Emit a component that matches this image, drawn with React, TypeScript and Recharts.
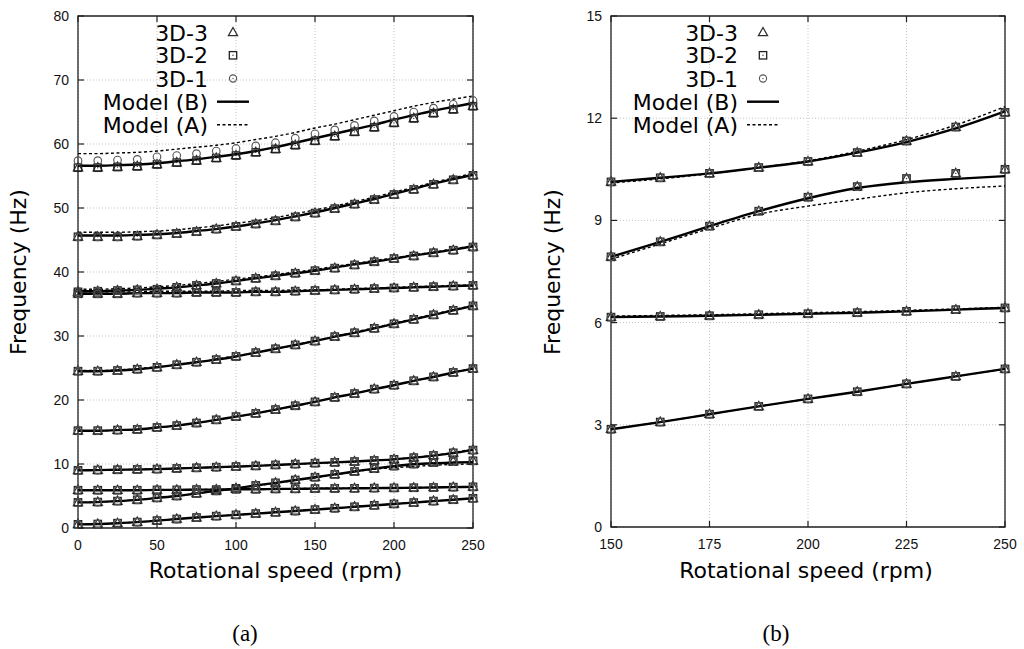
import React from 'react';
import { LineChart, Line, XAxis, YAxis, CartesianGrid, ReferenceArea } from 'recharts';

// ---------- data ----------
const speeds = [0, 12.5, 25, 37.5, 50, 62.5, 75, 87.5, 100, 112.5, 125, 137.5, 150, 162.5, 175, 187.5, 200, 212.5, 225, 237.5, 250];
const xTicksA = [0, 50, 100, 150, 200, 250];
const yTicksA = [0, 10, 20, 30, 40, 50, 60, 70, 80];
const xTicksB = [150, 175, 200, 225, 250];
const yTicksB = [0, 3, 6, 9, 12, 15];

// mode 1
const m1B = [56.6, 56.6, 56.7, 56.8, 57.0, 57.3, 57.6, 58.0, 58.4, 58.9, 59.5, 60.2, 60.9, 61.6, 62.3, 63.0, 63.8, 64.5, 65.2, 65.8, 66.4];
const m1A = [58.5, 58.5, 58.6, 58.7, 58.9, 59.2, 59.5, 59.8, 60.2, 60.7, 61.2, 61.8, 62.5, 63.1, 63.8, 64.5, 65.2, 65.9, 66.5, 67.0, 67.5];
const m1P = [56.3, 56.3, 56.4, 56.5, 56.8, 57.1, 57.4, 57.8, 58.2, 58.7, 59.2, 59.8, 60.5, 61.2, 61.9, 62.6, 63.3, 64.0, 64.8, 65.4, 65.9];
const m1C = [57.4, 57.4, 57.5, 57.6, 58.0, 58.2, 58.5, 58.9, 59.3, 59.7, 60.2, 60.9, 61.6, 62.2, 62.9, 63.6, 64.3, 65.0, 65.6, 66.2, 66.8];
// mode 2
const m2B = [45.7, 45.7, 45.7, 45.8, 45.9, 46.1, 46.4, 46.7, 47.1, 47.6, 48.1, 48.7, 49.3, 50.0, 50.7, 51.4, 52.2, 53.0, 53.8, 54.5, 55.2];
const m2A = [46.2, 46.2, 46.2, 46.3, 46.4, 46.6, 46.9, 47.2, 47.6, 48.0, 48.5, 49.1, 49.7, 50.3, 51.0, 51.7, 52.5, 53.2, 54.0, 54.7, 55.4];
const m2P = [45.5, 45.5, 45.5, 45.6, 45.8, 46.0, 46.3, 46.7, 47.1, 47.5, 48.0, 48.6, 49.2, 49.9, 50.6, 51.3, 52.1, 52.9, 53.7, 54.4, 55.1];
// mode 3
const m3B = [37.0, 37.0, 37.1, 37.2, 37.4, 37.6, 37.9, 38.2, 38.6, 39.0, 39.4, 39.8, 40.2, 40.7, 41.2, 41.6, 42.1, 42.6, 43.0, 43.5, 44.0];
const m3A = [37.3, 37.3, 37.4, 37.5, 37.7, 37.9, 38.2, 38.5, 38.9, 39.2, 39.6, 40.0, 40.4, 40.9, 41.3, 41.8, 42.2, 42.7, 43.1, 43.6, 44.1];
const m3P = [36.9, 37.0, 37.1, 37.2, 37.3, 37.6, 37.9, 38.2, 38.6, 39.0, 39.4, 39.8, 40.2, 40.6, 41.1, 41.6, 42.1, 42.5, 43.0, 43.4, 43.9];
// mode 4
const m4B = [36.6, 36.6, 36.6, 36.7, 36.7, 36.7, 36.8, 36.8, 36.8, 36.9, 36.9, 37.0, 37.1, 37.2, 37.3, 37.4, 37.5, 37.6, 37.7, 37.8, 37.9];
const m4A = [36.9, 36.9, 36.9, 36.9, 37.0, 37.0, 37.0, 37.0, 37.1, 37.1, 37.1, 37.2, 37.2, 37.3, 37.4, 37.5, 37.6, 37.7, 37.8, 37.9, 38.0];
// mode 5
const m5B = [24.5, 24.5, 24.6, 24.8, 25.1, 25.5, 25.9, 26.3, 26.8, 27.4, 28.0, 28.6, 29.2, 29.9, 30.5, 31.2, 31.9, 32.6, 33.3, 34.0, 34.7];
const m5A = [24.6, 24.6, 24.7, 24.9, 25.2, 25.5, 25.9, 26.4, 26.9, 27.4, 28.0, 28.6, 29.3, 29.9, 30.6, 31.3, 32.0, 32.7, 33.4, 34.1, 34.8];
// mode 6
const m6B = [15.2, 15.2, 15.3, 15.4, 15.7, 16.0, 16.4, 16.9, 17.4, 17.9, 18.5, 19.1, 19.7, 20.4, 21.0, 21.7, 22.3, 23.0, 23.6, 24.3, 24.9];
// mode 7
const m7B = [9.0, 9.05, 9.1, 9.15, 9.2, 9.3, 9.4, 9.5, 9.6, 9.7, 9.85, 9.98, 10.13, 10.25, 10.38, 10.55, 10.73, 10.99, 11.3, 11.7, 12.2];
const m7A = [9.0, 9.05, 9.1, 9.15, 9.2, 9.3, 9.4, 9.5, 9.6, 9.7, 9.83, 9.96, 10.1, 10.22, 10.37, 10.55, 10.75, 11.03, 11.37, 11.8, 12.34];
const m7P = [9.0, 9.05, 9.1, 9.15, 9.2, 9.3, 9.4, 9.5, 9.6, 9.7, 9.85, 9.98, 10.13, 10.25, 10.38, 10.55, 10.73, 10.99, 11.33, 11.74, 12.17];
// mode 8
const m8B = [4.0, 4.05, 4.2, 4.4, 4.7, 5.0, 5.4, 5.8, 6.2, 6.65, 7.05, 7.5, 7.93, 8.37, 8.83, 9.27, 9.65, 9.95, 10.12, 10.22, 10.3];
const m8A = [4.0, 4.05, 4.2, 4.4, 4.7, 5.0, 5.4, 5.8, 6.2, 6.6, 7.0, 7.42, 7.86, 8.31, 8.76, 9.18, 9.42, 9.62, 9.81, 9.93, 10.01];
const m8P = [4.0, 4.05, 4.2, 4.4, 4.7, 5.0, 5.4, 5.8, 6.2, 6.65, 7.05, 7.5, 7.93, 8.37, 8.83, 9.27, 9.68, 9.99, 10.23, 10.38, 10.5];
// mode 9
const m9B = [5.9, 5.9, 5.9, 5.9, 5.95, 5.95, 6.0, 6.0, 6.05, 6.05, 6.1, 6.12, 6.16, 6.18, 6.2, 6.23, 6.26, 6.29, 6.33, 6.38, 6.43];
const m9A = [5.93, 5.93, 5.93, 5.93, 5.97, 5.98, 6.02, 6.03, 6.07, 6.08, 6.12, 6.15, 6.19, 6.21, 6.23, 6.26, 6.29, 6.32, 6.36, 6.4, 6.45];
// mode 10
const m10B = [0.57, 0.62, 0.75, 0.92, 1.15, 1.4, 1.63, 1.85, 2.05, 2.25, 2.45, 2.65, 2.87, 3.08, 3.31, 3.54, 3.76, 3.97, 4.2, 4.42, 4.64];

const modes = [
  { B: m1B, A: m1A, d3: m1P, d2: m1P, d1: m1C },
  { B: m2B, A: m2A, d3: m2P, d2: m2P, d1: m2P },
  { B: m3B, A: m3A, d3: m3P, d2: m3P, d1: m3P },
  { B: m4B, A: m4A, d3: m4B, d2: m4B, d1: m4B },
  { B: m5B, A: m5A, d3: m5B, d2: m5B, d1: m5B },
  { B: m6B, A: m6B, d3: m6B, d2: m6B, d1: m6B },
  { B: m7B, A: m7A, d3: m7P, d2: m7P, d1: m7P },
  { B: m8B, A: m8A, d3: m8P, d2: m8P, d1: m8P },
  { B: m9B, A: m9A, d3: m9B, d2: m9B, d1: m9B },
  { B: m10B, A: m10B, d3: m10B, d2: m10B, d1: m10B },
];

const rows = speeds.map((s, i) => {
  const r: Record<string, number> = { speed: s };
  modes.forEach((m, k) => {
    r[`B${k}`] = m.B[i];
    r[`A${k}`] = m.A[i];
    r[`t${k}`] = m.d3[i];
    r[`s${k}`] = m.d2[i];
    r[`c${k}`] = m.d1[i];
  });
  return r;
});
const rowsB = rows.filter((r) => r.speed >= 150);

// ---------- styling ----------
const SANS = 'DejaVu Sans, sans-serif';
const TICKF = 'Liberation Sans, Arial, sans-serif';
const AXW = 40; // y axis width
const AXH = 30; // x axis height

const Tri = ({ cx, cy }: { cx: number; cy: number }) => (
  <path d={`M${cx},${cy - 5}L${cx + 4.6},${cy + 3.2}L${cx - 4.6},${cy + 3.2}Z`} fill="none" stroke="#2e2e2e" strokeWidth={1.25} />
);
const Sq = ({ cx, cy }: { cx: number; cy: number }) => (
  <g>
    <rect x={cx - 3.7} y={cy - 3.7} width={7.4} height={7.4} fill="none" stroke="#222" strokeWidth={1.3} />
    <circle cx={cx} cy={cy} r={0.7} fill="#333" />
  </g>
);
const Circ = ({ cx, cy }: { cx: number; cy: number }) => (
  <circle cx={cx} cy={cy} r={3.8} fill="none" stroke="#555" strokeWidth={1.15} />
);

const dotFn = (Comp: any, tag: string) => (p: any) => {
  if (p.cx == null || p.cy == null || isNaN(p.cy)) return <g key={`${tag}${p.index}`} />;
  return <g key={`${tag}${p.index}`}><Comp cx={p.cx} cy={p.cy} /></g>;
};

type PanelProps = {
  left: number;
  width: number;
  height: number;
  plot: { l: number; r: number; t: number; b: number };
  data: Record<string, number>[];
  modeIdx: number[];
  xDomain: [number, number];
  xTicks: number[];
  yDomain: [number, number];
  yTicks: number[];
};

function Panel({ left, width, height, plot, data, modeIdx, xDomain, xTicks, yDomain, yTicks }: PanelProps) {
  const pL = plot.l;
  const pR = plot.r;
  const pT = plot.t;
  const pB = plot.b;
  const margin = { top: pT, left: pL - AXW, right: width - pR, bottom: height - pB - AXH };
  const XTick = (p: any) => (
    <g>
      <line x1={p.x} x2={p.x} y1={pB} y2={pB - 6} stroke="#222" strokeWidth={1.2} />
      <line x1={p.x} x2={p.x} y1={pT} y2={pT + 6} stroke="#222" strokeWidth={1.2} />
      <text x={p.x} y={pB + 12} dy="0.71em" textAnchor="middle" fontFamily={TICKF} fontSize={14} fill="#111">
        {p.payload.value}
      </text>
    </g>
  );
  const YTick = (p: any) => (
    <g>
      <line x1={pL} x2={pL + 6} y1={p.y} y2={p.y} stroke="#222" strokeWidth={1.2} />
      <line x1={pR - 6} x2={pR} y1={p.y} y2={p.y} stroke="#222" strokeWidth={1.2} />
      <text x={pL - 9} y={p.y} dy="0.36em" textAnchor="end" fontFamily={TICKF} fontSize={14} fill="#111">
        {p.payload.value}
      </text>
    </g>
  );
  const items: React.ReactNode[] = [];
  modeIdx.forEach((k) => {
    items.push(<Line key={`t${k}`} dataKey={`t${k}`} stroke="none" dot={dotFn(Tri, `t${k}-`)} activeDot={false} isAnimationActive={false} />);
    items.push(<Line key={`s${k}`} dataKey={`s${k}`} stroke="none" dot={dotFn(Sq, `s${k}-`)} activeDot={false} isAnimationActive={false} />);
    items.push(<Line key={`c${k}`} dataKey={`c${k}`} stroke="none" dot={dotFn(Circ, `c${k}-`)} activeDot={false} isAnimationActive={false} />);
  });
  modeIdx.forEach((k) => {
    items.push(<Line key={`B${k}`} dataKey={`B${k}`} type="monotone" stroke="#000" strokeWidth={2.4} dot={false} activeDot={false} isAnimationActive={false} />);
    items.push(<Line key={`A${k}`} dataKey={`A${k}`} type="monotone" stroke="#000" strokeWidth={1.4} strokeDasharray="3 2.5" dot={false} activeDot={false} isAnimationActive={false} />);
  });
  return (
    <div style={{ position: 'absolute', left, top: 0, width, height }}>
      <LineChart width={width} height={height} data={data} margin={margin}>
        <CartesianGrid stroke="#c4c4c4" strokeDasharray="1 2" strokeWidth={1} />
        <XAxis dataKey="speed" type="number" domain={xDomain} ticks={xTicks} interval={0} height={AXH} tickSize={0} tickMargin={12} axisLine={false} tickLine={false} tick={XTick} />
        <YAxis type="number" domain={yDomain} ticks={yTicks} interval={0} width={AXW} tickSize={0} tickMargin={9} axisLine={false} tickLine={false} tick={YTick} />
        {items}
        <ReferenceArea x1={xDomain[0]} x2={xDomain[1]} y1={yDomain[0]} y2={yDomain[1]} fill="none" fillOpacity={0} stroke="#222" strokeWidth={1.3} />
      </LineChart>
    </div>
  );
}

const legendLabels = ['3D-3', '3D-2', '3D-1', 'Model (B)', 'Model (A)'];

function LegendBlock({ textRight, markX }: { textRight: number; markX: number }) {
  const ys = [32.5, 55.3, 78.5, 101.7, 124.8];
  return (
    <g>
      {legendLabels.map((l, i) => (
        <text key={l} x={textRight} y={ys[i] + 8} textAnchor="end" fontFamily={SANS} fontSize={22} fill="#000">
          {l}
        </text>
      ))}
      <Tri cx={markX} cy={ys[0]} />
      <Sq cx={markX} cy={ys[1]} />
      <g>
        <circle cx={markX} cy={ys[2]} r={3.6} fill="none" stroke="#555" strokeWidth={1.1} />
        <circle cx={markX} cy={ys[2]} r={0.7} fill="#555" />
      </g>
      <line x1={markX - 16} x2={markX + 16} y1={ys[3]} y2={ys[3]} stroke="#000" strokeWidth={2.4} />
      <line x1={markX - 16} x2={markX + 16} y1={ys[4]} y2={ys[4]} stroke="#000" strokeWidth={1.4} strokeDasharray="3 2.5" />
    </g>
  );
}

export default function App() {
  return (
    <div style={{ position: 'absolute', left: 0, top: 0, width: 1024, height: 649, background: '#fff' }}>
      <Panel
        left={0}
        width={520}
        height={600}
        plot={{ l: 78, r: 473, t: 16, b: 528 }}
        data={rows}
        modeIdx={[0, 1, 2, 3, 4, 5, 6, 7, 8, 9]}
        xDomain={[0, 250]}
        xTicks={xTicksA}
        yDomain={[0, 80]}
        yTicks={yTicksA}
      />
      <Panel
        left={540}
        width={484}
        height={600}
        plot={{ l: 71, r: 465, t: 16, b: 527 }}
        data={rowsB}
        modeIdx={[6, 7, 8, 9]}
        xDomain={[150, 250]}
        xTicks={xTicksB}
        yDomain={[0, 15]}
        yTicks={yTicksB}
      />
      <svg width={1024} height={649} style={{ position: 'absolute', left: 0, top: 0, pointerEvents: 'none' }}>
        <LegendBlock textRight={208} markX={233} />
        <LegendBlock textRight={738} markX={763} />
        <text x={275.5} y={578} textAnchor="middle" fontFamily={SANS} fontSize={22} fill="#000">Rotational speed (rpm)</text>
        <text x={806} y={578} textAnchor="middle" fontFamily={SANS} fontSize={22} fill="#000">Rotational speed (rpm)</text>
        <text transform="translate(26,272) rotate(-90)" textAnchor="middle" fontFamily={SANS} fontSize={22} fill="#000">Frequency (Hz)</text>
        <text transform="translate(560,272) rotate(-90)" textAnchor="middle" fontFamily={SANS} fontSize={22} fill="#000">Frequency (Hz)</text>
        <text x={245} y={641} textAnchor="middle" fontFamily="Liberation Serif, serif" fontSize={23} fill="#000">(a)</text>
        <text x={776} y={641} textAnchor="middle" fontFamily="Liberation Serif, serif" fontSize={23} fill="#000">(b)</text>
      </svg>
    </div>
  );
}
